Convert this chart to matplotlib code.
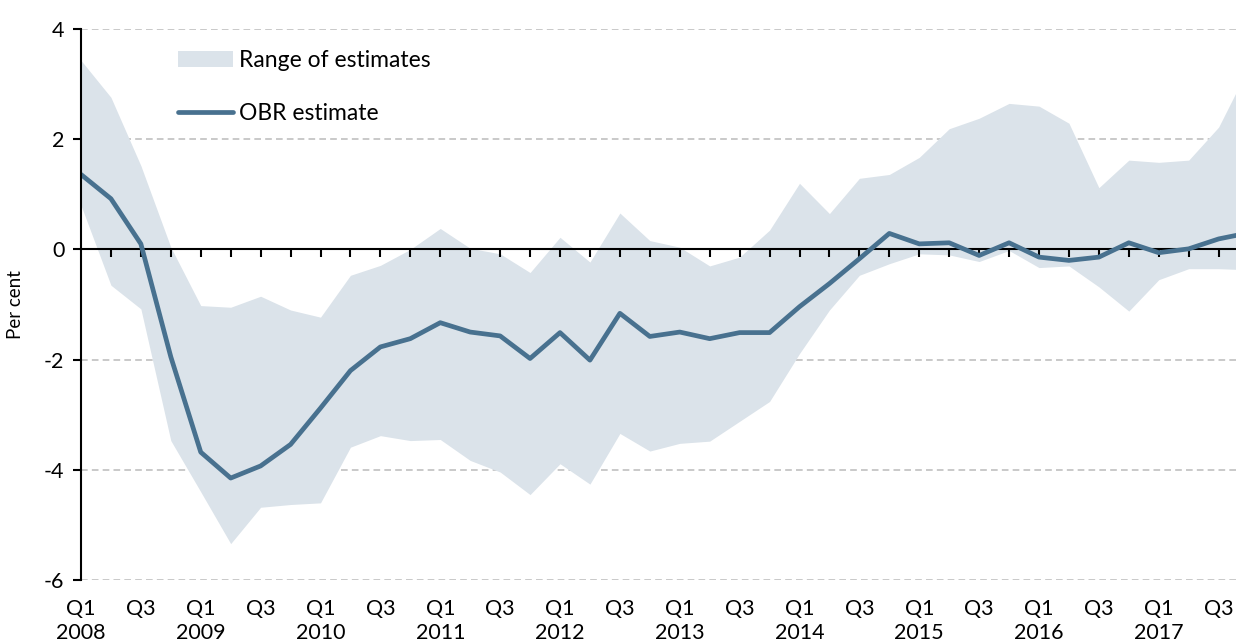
import matplotlib.pyplot as plt
import numpy as np

# quarters Q1 2008 .. Q4 2017
years = list(range(2008, 2018))

obr = [1.36, 0.92, 0.10, -1.95, -3.68, -4.15, -3.93, -3.54, -2.88, -2.20,
       -1.77, -1.62, -1.33, -1.50, -1.57, -1.98, -1.51, -2.01, -1.16, -1.58,
       -1.50, -1.62, -1.51, -1.51, -1.04, -0.62, -0.17, 0.29, 0.10, 0.12,
       -0.11, 0.12, -0.14, -0.20, -0.14, 0.12, -0.06, 0.01, 0.19, 0.30]

upper = [3.43, 2.76, 1.52, 0.04, -1.02, -1.05, -0.85, -1.10, -1.23, -0.47,
         -0.29, 0.00, 0.38, 0.02, -0.08, -0.42, 0.22, -0.23, 0.66, 0.16,
         0.04, -0.30, -0.14, 0.35, 1.20, 0.65, 1.29, 1.36, 1.67, 2.19,
         2.38, 2.65, 2.60, 2.29, 1.12, 1.62, 1.58, 1.62, 2.22, 3.30]

lower = [0.80, -0.65, -1.08, -3.47, -4.40, -5.34, -4.68, -4.63, -4.60, -3.59,
         -3.38, -3.47, -3.45, -3.83, -4.04, -4.45, -3.89, -4.26, -3.34, -3.66,
         -3.52, -3.48, -3.12, -2.76, -1.89, -1.10, -0.47, -0.26, -0.08, -0.10,
         -0.22, -0.02, -0.33, -0.30, -0.68, -1.12, -0.55, -0.35, -0.35, -0.37]

line_col = '#48718f'
band_col = '#dbe3ea'

plt.rcParams['font.family'] = ['Lato', 'DejaVu Sans']

x = np.arange(len(obr))

fig = plt.figure(figsize=(12.36, 6.44), dpi=100)
ax = fig.add_axes([81 / 1236, 1 - 580 / 644, 1 - 81 / 1236, (580 - 29) / 644])

ax.fill_between(x, lower, upper, color=band_col, lw=0, label='Range of estimates')
ax.plot(x, obr, color=line_col, lw=3.4, solid_capstyle='round', label='OBR estimate')

ax.set_yticks([-6, -4, -2, 0, 2, 4])
ax.set_yticklabels(['-6', '-4', '-2', '0', '2', '4'])
for v in [-6, -4, -2, 2, 4]:
    ax.axhline(v, color='#c0c0c0', lw=1.2, ls=(0, (4, 2.5)), zorder=0)

ax.spines['top'].set_visible(False)
ax.spines['right'].set_visible(False)
ax.spines['left'].set_linewidth(1.5)
ax.spines['bottom'].set_position(('data', 0))
ax.spines['bottom'].set_linewidth(1.5)
ax.spines['bottom'].set_zorder(1)

ax.set_xticks(x[1:39])
ax.tick_params(axis='x', direction='out', length=6, width=1.5, labelbottom=False)
ax.tick_params(axis='y', direction='out', length=6, width=1.5, labelsize=15.5, pad=6)

# quarter / year labels along bottom
sec = ax.secondary_xaxis(0)
sec.spines['bottom'].set_visible(False)
lab_pos = []
lab_txt = []
for i, yr in enumerate(years):
    lab_pos.append(i * 4)
    lab_txt.append('Q1\n' + str(yr))
    lab_pos.append(i * 4 + 2)
    lab_txt.append('Q3\n')
sec.set_xticks(lab_pos)
sec.set_xticklabels(lab_txt, linespacing=1.25)
sec.tick_params(axis='x', length=0, labelsize=15.5, pad=14)

ax.set_xlim(0, 38.58)
ax.set_ylim(-6, 4)

ax.set_ylabel('Per cent', fontsize=13.5, labelpad=14)

ax.legend(loc='upper left', bbox_to_anchor=(0.066, 1.0), frameon=False,
          fontsize=16.5, handlelength=2.4, handletextpad=0.25, labelspacing=1.4)

fig.savefig('out.png', dpi=100)
